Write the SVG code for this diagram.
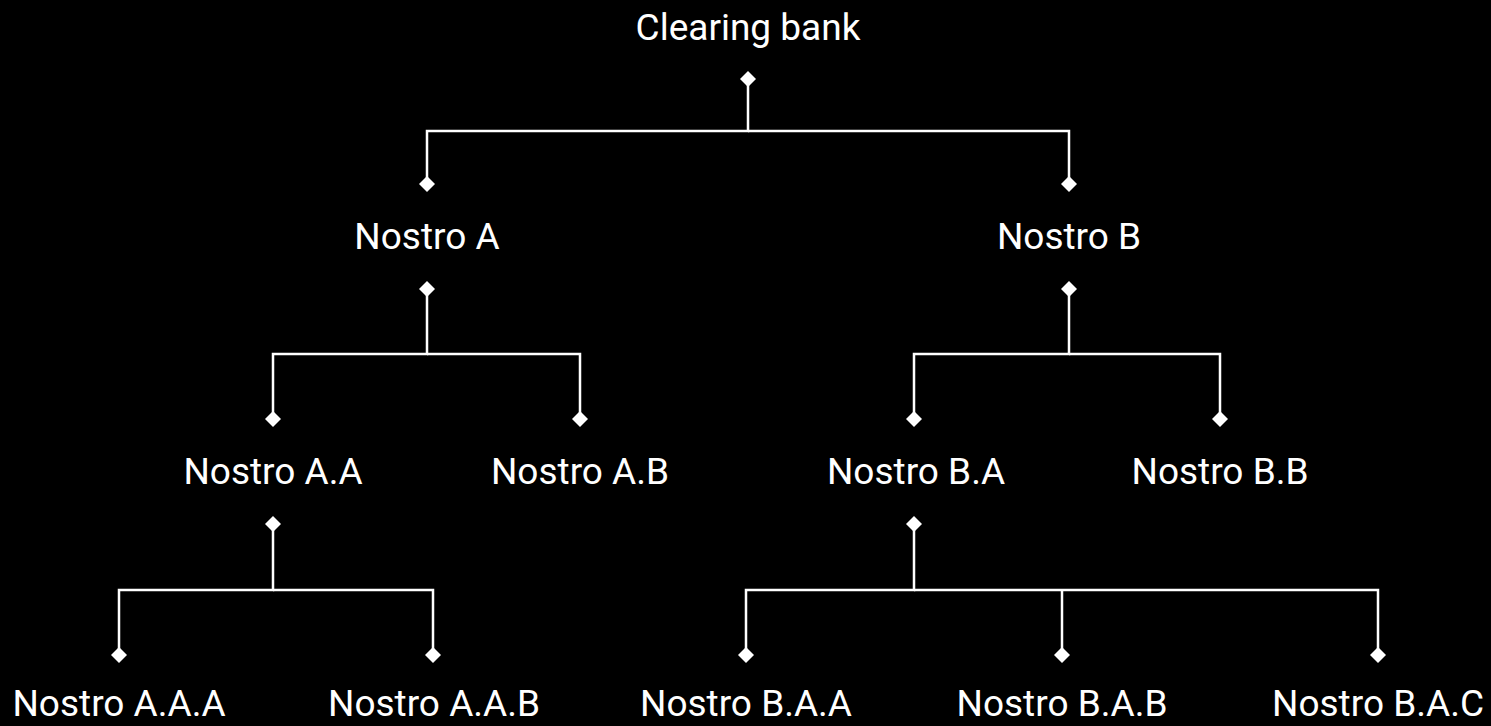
<svg xmlns="http://www.w3.org/2000/svg" width="1491" height="726" viewBox="0 0 1491 726">
<style>
text{font-family:Roboto,"Liberation Sans",sans-serif;font-size:37px;fill:#ffffff;text-anchor:middle}
.c{fill:none;stroke:#ffffff;stroke-width:2.5}
</style>
<defs>
<marker id="dm" viewBox="-8 -8 16 16" markerWidth="16" markerHeight="16" markerUnits="userSpaceOnUse" refX="0" refY="0" orient="auto"><path d="M0,-8 L8,0 L0,8 L-8,0 Z" fill="#ffffff"/></marker>
</defs>
<rect width="1491" height="726" fill="#000000"/>
<g id="connectors">
<path class="c" d="M748,79 V131 H427 V184" marker-start="url(#dm)" marker-end="url(#dm)"/>
<path class="c" d="M748,131 H1069 V184" marker-end="url(#dm)"/>
<path class="c" d="M427,289 V354 H273 V419" marker-start="url(#dm)" marker-end="url(#dm)"/>
<path class="c" d="M427,354 H580 V419" marker-end="url(#dm)"/>
<path class="c" d="M1069,289 V354 H914 V419" marker-start="url(#dm)" marker-end="url(#dm)"/>
<path class="c" d="M1069,354 H1220 V419" marker-end="url(#dm)"/>
<path class="c" d="M273,524 V590 H119 V655" marker-start="url(#dm)" marker-end="url(#dm)"/>
<path class="c" d="M273,590 H433 V655" marker-end="url(#dm)"/>
<path class="c" d="M914,524 V590 H746 V655" marker-start="url(#dm)" marker-end="url(#dm)"/>
<path class="c" d="M914,590 H1378 V655" marker-end="url(#dm)"/>
<path class="c" d="M1062,590 V655" marker-end="url(#dm)"/>
</g>
<g id="n-clearing"><text x="748" y="40">Clearing bank</text></g>
<g id="n-a"><text x="427" y="249">Nostro A</text></g>
<g id="n-b"><text x="1069" y="249">Nostro B</text></g>
<g id="n-aa"><text x="273" y="484">Nostro A.A</text></g>
<g id="n-ab"><text x="580" y="484">Nostro A.B</text></g>
<g id="n-ba"><text x="916" y="484">Nostro B.A</text></g>
<g id="n-bb"><text x="1220" y="484">Nostro B.B</text></g>
<g id="n-aaa"><text x="119" y="716">Nostro A.A.A</text></g>
<g id="n-aab"><text x="434" y="716">Nostro A.A.B</text></g>
<g id="n-baa"><text x="746" y="716">Nostro B.A.A</text></g>
<g id="n-bab"><text x="1062" y="716">Nostro B.A.B</text></g>
<g id="n-bac"><text x="1378" y="716">Nostro B.A.C</text></g>
</svg>
